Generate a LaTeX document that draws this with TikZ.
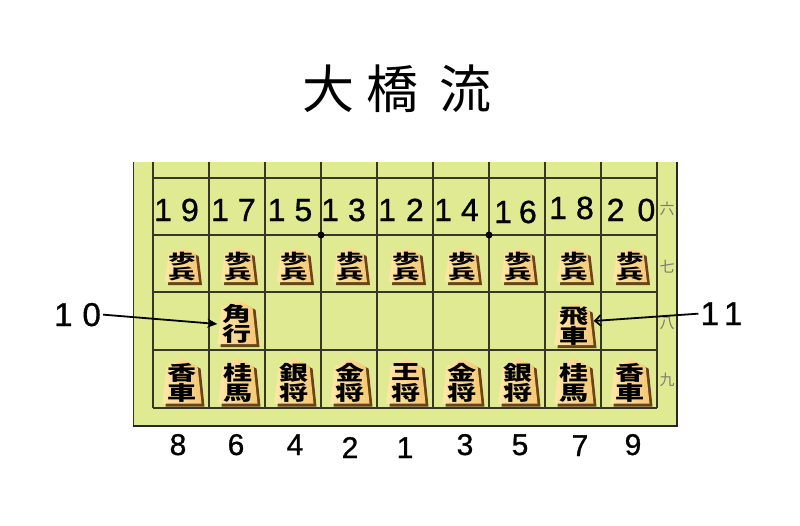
\documentclass[tikz,border=0pt]{standalone}
\usepackage{fontspec}
\setmainfont{Liberation Sans}
\newfontfamily\numf{Liberation Sans}[FakeBold=0.9]
\newfontfamily\jp{Noto Sans CJK JP}
\usetikzlibrary{arrows.meta}
\definecolor{boardbg}{RGB}{224,234,146}
\definecolor{gridc}{RGB}{55,55,40}
\definecolor{piecebody}{RGB}{246,200,118}
\definecolor{piecehi}{RGB}{255,230,170}
\definecolor{pieceshade}{RGB}{105,68,25}
\definecolor{sidec}{RGB}{125,125,120}
\tikzset{
  gridline/.style={draw=gridc, line width=1.1pt},
  frameline/.style={draw=black!85, line width=2.4pt},
  ptext/.style={font=\jp, inner sep=0pt, align=center, text=black},
  pawnfont/.style={font=\jp\bfseries\fontsize{14.5}{15}\selectfont},
  bigfont/.style={font=\jp\bfseries\fontsize{20}{20.5}\selectfont},
  topnum/.style={font=\numf\fontsize{32}{34}\selectfont, anchor=base, inner sep=0pt},
  botnum/.style={font=\numf\fontsize{30}{32}\selectfont, anchor=base, inner sep=0pt},
  labnum/.style={font=\numf\fontsize{33}{35}\selectfont, anchor=base, inner sep=2pt},
  sidek/.style={font=\jp\fontsize{15}{16}\selectfont, text=sidec, inner sep=0pt},
  titlek/.style={font=\jp\fontsize{52}{54}\selectfont, inner sep=0pt},
  arr/.style={line width=1.8pt, draw=black},
}
% name, cx, cy, w, h, text, extra node style
\newcommand\shogipiece[7]{%
  \fill[pieceshade] ({#2-#4/2+3},{#3+#5/2+3}) -- ({#2+#4/2+3},{#3+#5/2+3})
     -- ({#2+0.40*#4+3},{#3-0.32*#5+2}) -- ({#2+3},{#3-#5/2+2})
     -- ({#2-0.40*#4+3},{#3-0.32*#5+2}) -- cycle;
  \shade[left color=piecehi, right color=piecebody] ({#2-#4/2},{#3+#5/2}) -- ({#2+#4/2},{#3+#5/2})
     -- ({#2+0.40*#4},{#3-0.32*#5}) -- ({#2},{#3-#5/2})
     -- ({#2-0.40*#4},{#3-0.32*#5}) -- cycle;
  \node[ptext, #7, minimum width=#4, minimum height=#5] (#1) at (#2,{#3+2}) {#6};
}
\newcommand\pw[2]{\scalebox{1.9}[1]{#1}\\\scalebox{1.9}[1]{#2}}
\newcommand\bg[2]{\scalebox{1.45}[1]{#1}\\\scalebox{1.45}[1]{#2}}
\begin{document}
\begin{tikzpicture}[x=1pt, y=-1pt]
\useasboundingbox[fill=white] (0,0) rectangle (800,525);
% title
\node[titlek] (ti1) at (328,89) {大};
\node[titlek] (ti2) at (392,89) {橋};
\node[titlek] (ti3) at (465,89) {流};
% board
\fill[boardbg] (133,162) rectangle (677,426);
\foreach \i in {0,...,9} \draw[gridline] ({153+56*\i},162) -- ({153+56*\i},408);
\foreach \y in {178,235,292,350,408} \draw[gridline] (153,\y) -- (657,\y);
\fill[black] (321,235) circle (3.5);
\fill[black] (489,235) circle (3.5);
\draw[draw=black!80, line width=1.4pt] (133.5,162) -- (133.5,426);
\draw[frameline] (132.5,426) -- (678,426);
\draw[frameline] (677,162) -- (677,427);
% side kanji
\node[sidek] (r6) at (667,209) {六};
\node[sidek] (r7) at (667,267) {七};
\node[sidek] (r8) at (667,323) {八};
\node[sidek] (r9) at (667,380) {九};
% top numbers
\node[topnum] (t19) at (176.5,221) {1\hspace{9pt}9};
\node[topnum] (t17) at (233.5,221) {1\hspace{9pt}7};
\node[topnum] (t15) at (290,221) {1\hspace{9pt}5};
\node[topnum] (t13) at (343.5,221) {1\hspace{9pt}3};
\node[topnum] (t12) at (401,221) {1\hspace{10pt}2};
\node[topnum] (t14) at (456.5,221) {1\hspace{9pt}4};
\node[topnum] (t16) at (515.5,223) {1\hspace{7pt}6};
\node[topnum] (t18) at (571.5,219) {1\hspace{9pt}8};
\node[topnum] (t20) at (631,221) {2\hspace{13pt}0};
% pawns
\foreach \c [count=\k] in {182,238,294,350,406,462,518,574,630}
  \shogipiece{p\k}{\c}{265}{34}{34}{\pw{歩}{兵}}{pawnfont};
% bishop and rook
\shogipiece{kaku}{237}{322}{39}{44}{\bg{角}{行}}{bigfont}
\shogipiece{hisha}{574}{324}{39}{42}{\bg{飛}{車}}{bigfont}
% back row
\shogipiece{l1}{182}{381}{39}{45}{\bg{香}{車}}{bigfont}
\shogipiece{n1}{238}{381}{39}{45}{\bg{桂}{馬}}{bigfont}
\shogipiece{s1}{294}{381}{39}{45}{\bg{銀}{将}}{bigfont}
\shogipiece{g1}{350}{381}{39}{45}{\bg{金}{将}}{bigfont}
\shogipiece{ki}{406}{381}{39}{45}{\bg{王}{将}}{bigfont}
\shogipiece{g2}{462}{381}{39}{45}{\bg{金}{将}}{bigfont}
\shogipiece{s2}{518}{381}{39}{45}{\bg{銀}{将}}{bigfont}
\shogipiece{n2}{574}{381}{39}{45}{\bg{桂}{馬}}{bigfont}
\shogipiece{l2}{630}{381}{39}{45}{\bg{香}{車}}{bigfont}
% bottom numbers
\node[botnum] (b8) at (178,455) {8};
\node[botnum] (b6) at (236,455) {6};
\node[botnum] (b4) at (295,455) {4};
\node[botnum] (b2) at (350,458) {2};
\node[botnum] (b1) at (405,458) {1};
\node[botnum] (b3) at (465,455) {3};
\node[botnum] (b5) at (520,455) {5};
\node[botnum] (b7) at (580,456) {7};
\node[botnum] (b9) at (633,455) {9};
% labels and arrows
\node[labnum] (lab10) at (77.5,326) {1\hspace{10pt}0};
\node[labnum] (lab11) at (721.5,325) {1\hspace{5pt}1};
\draw[arr, -{Stealth[length=10pt,width=9pt]}] (lab10.east) -- (kaku.west);
\draw[arr, -{Straight Barb[length=6pt,width=11pt]}] (lab11.west) -- ([yshift=5pt]hisha.east);
\end{tikzpicture}
\end{document}
